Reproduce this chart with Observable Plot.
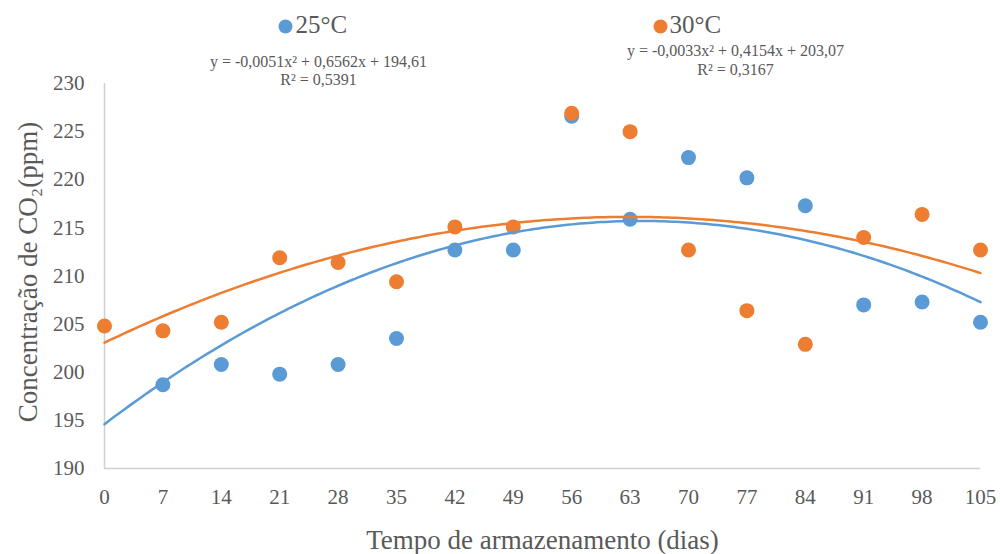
<!DOCTYPE html>
<html><head><meta charset="utf-8">
<script src="https://cdn.jsdelivr.net/npm/d3@7"></script>
<script src="https://cdn.jsdelivr.net/npm/@observablehq/plot@0.6"></script>
<style>
body{margin:0;background:#fff}
#chart svg text{font-family:"Liberation Serif","Times New Roman",serif !important;font-variant:normal !important}
</style>
</head><body><div id="chart"></div>
<script>
// Storage time (days)
const days = [0, 7, 14, 21, 28, 35, 42, 49, 56, 63, 70, 77, 84, 91, 98, 105];
// CO2 concentration (ppm) at 25 °C (day 0 hidden under the 30 °C point)
const co2_25 = [null, 198.7, 200.8, 199.8, 200.8, 203.5, 212.7, 212.7, 226.6, 215.9, 222.3, 220.2, 217.3, 207.0, 207.3, 205.2];
// CO2 concentration (ppm) at 30 °C
const co2_30 = [204.8, 204.3, 205.2, 211.9, 211.4, 209.4, 215.1, 215.1, 226.9, 225.0, 212.7, 206.4, 202.9, 214.0, 216.4, 212.7];
// Polynomial trendline coefficients printed on the chart [c0, c1, c2]
const coef25 = [194.61, 0.6562, -0.0051];
const coef30 = [203.07, 0.4154, -0.0033];
const yTicks = [190, 195, 200, 205, 210, 215, 220, 225, 230];
const seriesNames = ["25°C", "30°C"];
const eq25 = ["y = -0,0051x² + 0,6562x + 194,61", "R² = 0,5391"];
const eq30 = ["y = -0,0033x² + 0,4154x + 203,07", "R² = 0,3167"];

const blue = "#5B9BD5", orange = "#ED7D31", gray = "#595959";
const serif = "Liberation Serif, Times New Roman, serif";
const pts25 = days.map((d, i) => ({d, v: co2_25[i]})).filter(p => p.v != null);
const pts30 = days.map((d, i) => ({d, v: co2_30[i]})).filter(p => p.v != null);
const xs = d3.range(0, 105.001, 0.5);
const trend = c => xs.map(x => ({d: x, v: c[0] + c[1] * x + c[2] * x * x}));

const L = 104, T = 83;
const txt = (s, x, y, size, anchor = "middle") =>
  Plot.text([s], {frameAnchor: "top-left", dx: x - L, dy: y - T, fontSize: size,
                  textAnchor: anchor, lineAnchor: "middle", fill: gray});
const chart = Plot.plot({
  width: 1000, height: 554,
  marginLeft: L, marginRight: 20, marginTop: T, marginBottom: 86,
  style: {fontFamily: serif, color: gray, background: "#fff"},
  x: {domain: [0, 105]},
  y: {domain: [190, 230]},
  marks: [
    Plot.axisY({ticks: yTicks, tickSize: 0, tickPadding: 20, fontSize: 21, label: null}),
    Plot.axisX({ticks: days, tickSize: 0, tickPadding: 21, fontSize: 21, label: null}),
    Plot.ruleX([0], {stroke: "#d0d0d0", strokeWidth: 1.5}),
    Plot.ruleY([190], {stroke: "#d0d0d0", strokeWidth: 1.5}),
    Plot.dot(pts25, {x: "d", y: "v", r: 7.5, fill: blue}),
    Plot.dot(pts30, {x: "d", y: "v", r: 7.5, fill: orange}),
    Plot.line(trend(coef25), {x: "d", y: "v", stroke: blue, strokeWidth: 2.5}),
    Plot.line(trend(coef30), {x: "d", y: "v", stroke: orange, strokeWidth: 2.5}),
    // legend
    Plot.dot([0], {frameAnchor: "top-left", dx: 285 - L, dy: 26 - T, r: 7, fill: blue}),
    txt(seriesNames[0], 295, 24, 25, "start"),
    Plot.dot([0], {frameAnchor: "top-left", dx: 660 - L, dy: 26 - T, r: 7, fill: orange}),
    txt(seriesNames[1], 669, 24, 25, "start"),
    // equations
    txt(eq25[0], 318, 61, 16),
    txt(eq25[1], 318, 79, 16),
    txt(eq30[0], 735, 50, 16),
    txt(eq30[1], 735, 69, 16),
    // axis titles
    Plot.text(["Concentração de CO₂(ppm)"], {frameAnchor: "left", dx: 28 - L, dy: -4, rotate: -90, fontSize: 27,
      textAnchor: "middle", lineAnchor: "middle", fill: gray}),
    Plot.text(["Tempo de armazenamento (dias)"], {frameAnchor: "bottom", dy: 72, fontSize: 27,
      textAnchor: "middle", lineAnchor: "middle", fill: gray})
  ]
});
document.getElementById("chart").append(chart);
</script>
</body></html>
